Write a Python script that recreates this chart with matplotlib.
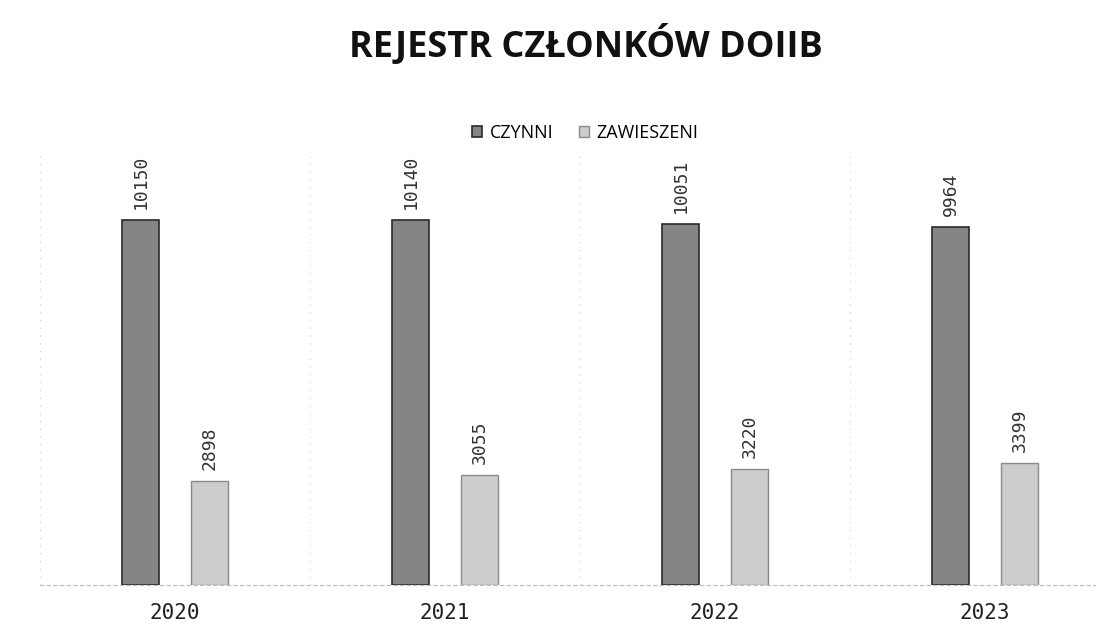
import matplotlib
matplotlib.use("Agg")
import matplotlib.pyplot as plt
import numpy as np

years = ["2020", "2021", "2022", "2023"]
czynni = [10150, 10140, 10051, 9964]
zawieszeni = [2898, 3055, 3220, 3399]
series_names = ["CZYNNI", "ZAWIESZENI"]
title = "REJESTR CZŁONKÓW DOIIB"

W, H = 1107, 639
fig = plt.figure(figsize=(W / 100, H / 100), dpi=100)
ax = fig.add_axes([40 / W, 1 - 585 / H, (1095 - 40) / W, (585 - 150) / H])

x = np.arange(len(years))
bw = 0.137
off = 0.128
b1 = ax.bar(x - off, czynni, bw, color="#858585", edgecolor="#2a2a2a", linewidth=1.2,
            label=series_names[0])
b2 = ax.bar(x + off, zawieszeni, bw, color="#cdcdcd", edgecolor="#8a8a8a", linewidth=1.0,
            label=series_names[1])

for bars, vals in ((b1, czynni), (b2, zawieszeni)):
    for r, v in zip(bars, vals):
        ax.annotate(str(v), (r.get_x() + r.get_width() / 2, r.get_height()),
                    xytext=(0, 8), textcoords="offset points", rotation=90,
                    ha="center", va="bottom", fontsize=13,
                    family="DejaVu Sans Mono", color="#333333")

ax.set_xlim(-0.5, 3.407)
ax.set_ylim(0, 12100)
ax.set_xticks(x)
ax.set_xticklabels(years, fontsize=15, family="DejaVu Sans Mono", color="#222222")
ax.tick_params(axis="x", length=0, pad=13)
ax.set_yticks([])
for s in ("left", "right", "top"):
    ax.spines[s].set_visible(False)
ax.spines["bottom"].set_color("#bbbbbb")
ax.spines["bottom"].set_linestyle((0, (3, 3)))
for b in [-0.5, 0.5, 1.5, 2.5]:
    ax.axvline(b, color="#cccccc", lw=0.8, ls=(0, (1, 6)), zorder=0)

fig.text(586 / W, 1 - 46 / H, title, ha="center", va="center", fontsize=26,
         fontweight="bold", family="Open Sans", color="#111111")

fig.legend(handles=[b1, b2], labels=series_names, loc="center",
           bbox_to_anchor=(585 / W, 1 - 133 / H), ncol=2, frameon=False,
           prop={"family": "Open Sans", "size": 13}, handlelength=0.6,
           handleheight=0.6, columnspacing=1.4, handletextpad=0.4)

fig.savefig("out.png", dpi=100)
